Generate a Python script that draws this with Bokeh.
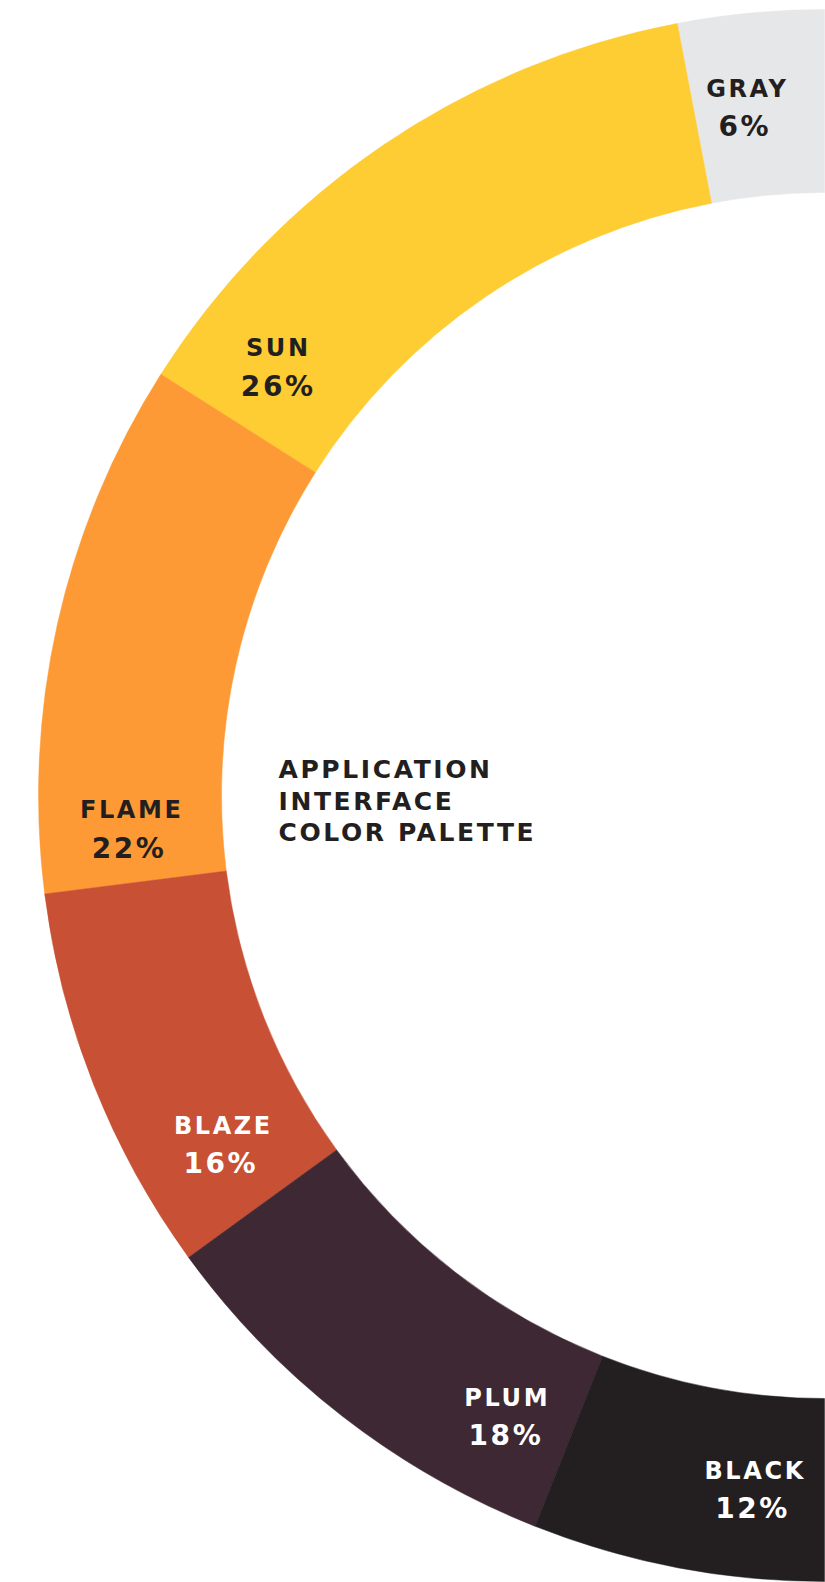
import math
from bokeh.plotting import figure
from bokeh.models import Range1d, ColumnDataSource, GlobalInlineStyleSheet
from bokeh.core.properties import value
from bokeh.embed import file_html
from bokeh.resources import INLINE

# ---- data ----
names = ["GRAY", "SUN", "FLAME", "BLAZE", "PLUM", "BLACK"]
shares = [6, 26, 22, 16, 18, 12]
colors = ["#E6E7E8", "#FECC33", "#FD9A35", "#C85035", "#3D2833", "#231F20"]
label_colors = ["#231F20", "#231F20", "#231F20", "#FFFFFF", "#FFFFFF", "#FFFFFF"]
title_lines = ["APPLICATION", "INTERFACE", "COLOR PALETTE"]
# label placement: how far back (in percent) from the end of each segment
label_back = [2.45, 3.3, 2.6, 3.4, 3.1, 3.25]

# ---- geometry (pixel space, y up) ----
W, H = 825, 1582
CX, CY = 824, H - 795
R_OUT, R_IN = 786, 603
R_LAB = 695
TEXT_DX, TEXT_DY = -5, -3
HALF_GAP = 19

total = sum(shares)
starts, ends, cum = [], [], 0
for s in shares:
    starts.append(math.pi / 2 + cum / total * math.pi)
    cum += s
    ends.append(math.pi / 2 + cum / total * math.pi)

lab_x, name_y, pct_y = [], [], []
cum = 0
for s, b in zip(shares, label_back):
    cum += s
    a = math.pi / 2 + (cum - b) / total * math.pi
    x = CX + R_LAB * math.cos(a) + TEXT_DX
    y = CY + R_LAB * math.sin(a) + TEXT_DY
    lab_x.append(x)
    name_y.append(y + HALF_GAP)
    pct_y.append(y - HALF_GAP)

src = ColumnDataSource(dict(name=names, share=shares, color=colors, start=starts, end=ends,
                            lx=lab_x, ny=name_y, py=pct_y, tc=label_colors,
                            pct=[f"{v}%" for v in shares]))

p = figure(width=W, height=H, x_range=Range1d(0, W), y_range=Range1d(0, H),
           output_backend="svg", toolbar_location=None, min_border=0)
p.axis.visible = False
p.grid.visible = False
p.outline_line_color = None
p.background_fill_color = "white"
p.border_fill_color = "white"

p.annular_wedge(x=CX, y=CY, inner_radius=R_IN, outer_radius=R_OUT,
                start_angle="start", end_angle="end", fill_color="color",
                line_color="color", line_width=0.5, source=src)

p.text(x="lx", y="ny", text="name", text_color="tc", text_font=value("DejaVu Sans"),
       text_font_style="bold", text_font_size="24px", text_align="center",
       text_baseline="middle", source=src)
p.text(x="lx", y="py", text="pct", text_color="tc", text_font=value("DejaVu Sans"),
       text_font_style="bold", text_font_size="28px", text_align="center",
       text_baseline="middle", source=src)

title_y = [H - 769, H - 801, H - 832]
p.text(x=[278] * 3, y=title_y, text=title_lines, text_color="#231F20",
       text_font=value("DejaVu Sans"), text_font_style="bold", text_font_size="25px",
       text_align="left", text_baseline="middle")

p.stylesheets = [GlobalInlineStyleSheet(css="body, svg text { letter-spacing: 2.6px; }")]

open("out.html", "w").write(file_html(p, INLINE))
